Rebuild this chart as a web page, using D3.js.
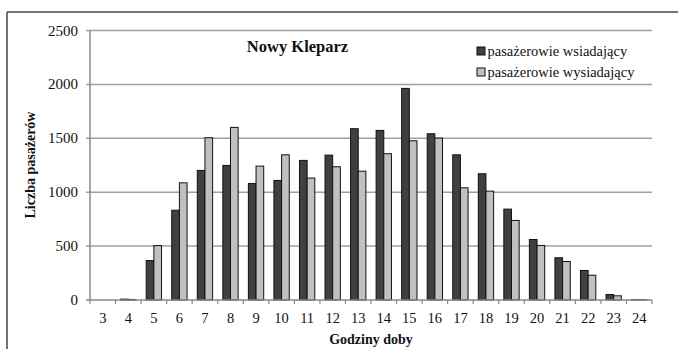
<!DOCTYPE html>
<html>
<head>
<meta charset="utf-8">
<script src="https://cdn.jsdelivr.net/npm/d3@7"></script>
<style>
  html, body { margin: 0; padding: 0; background: #fff; }
  svg { display: block; }
</style>
</head>
<body>
<svg id="chart" width="678" height="349"></svg>
<script>
// Hours of the day (category axis)
const hours = [3, 4, 5, 6, 7, 8, 9, 10, 11, 12, 13, 14, 15, 16, 17, 18, 19, 20, 21, 22, 23, 24];
// Passengers boarding per hour
const boarding = [0, 8, 366, 833, 1202, 1248, 1081, 1109, 1295, 1344, 1589, 1573, 1963, 1542, 1347, 1171, 843, 561, 392, 274, 51, 2];
// Passengers alighting per hour
const alighting = [0, 5, 505, 1087, 1505, 1601, 1242, 1347, 1131, 1236, 1195, 1357, 1477, 1502, 1041, 1010, 738, 506, 357, 230, 39, 2];
const seriesNames = ["pasażerowie wsiadający", "pasażerowie wysiadający"];
const seriesColors = ["#404040", "#c0c0c0"];
const yTicks = [0, 500, 1000, 1500, 2000, 2500];
const title = "Nowy Kleparz";
const xTitle = "Godziny doby";
const yTitle = "Liczba pasażerów";

const FONT = "'Liberation Serif', 'DejaVu Serif', serif";

const svg = d3.select("#chart")
  .attr("font-family", FONT)
  .style("font-family", FONT);

// Outer frame (top and left edges)
svg.append("line").attr("x1", 7).attr("x2", 678).attr("y1", 12).attr("y2", 12)
  .attr("stroke", "#444").attr("stroke-width", 1.5);
svg.append("line").attr("x1", 7).attr("x2", 7).attr("y1", 12).attr("y2", 349)
  .attr("stroke", "#444").attr("stroke-width", 1.5);

const plotLeft = 90, plotRight = 652, plotTop = 30.5, plotBottom = 300;

const x = d3.scaleBand().domain(hours).range([plotLeft, plotRight])
  .paddingInner(0.4).paddingOuter(0.2);
const xs = d3.scaleBand().domain([0, 1]).range([0, x.bandwidth()]);
const y = d3.scaleLinear().domain([0, 2500]).range([plotBottom, plotTop]);

// Horizontal gridlines with outward ticks
svg.append("g").selectAll("line").data(yTicks.filter(d => d > 0)).join("line")
  .attr("x1", plotLeft - 4).attr("x2", plotRight)
  .attr("y1", d => y(d)).attr("y2", d => y(d))
  .attr("stroke", "#a0a0a0").attr("stroke-width", 1.5);

// Y-axis tick labels
svg.append("g").selectAll("text").data(yTicks).join("text")
  .attr("x", 78).attr("y", d => y(d) + 5)
  .attr("text-anchor", "end").attr("font-size", 15).attr("fill", "#111")
  .text(d => d);

// Bars
const data = hours.map((h, i) => ({ h, vals: [boarding[i], alighting[i]] }));
const groups = svg.append("g").selectAll("g").data(data).join("g")
  .attr("transform", d => `translate(${x(d.h)},0)`);
groups.selectAll("rect").data(d => d.vals.map((v, k) => ({ v, k }))).join("rect")
  .attr("x", d => xs(d.k))
  .attr("y", d => y(d.v))
  .attr("width", xs.bandwidth())
  .attr("height", d => y(0) - y(d.v))
  .attr("fill", d => seriesColors[d.k])
  .attr("stroke", "#111").attr("stroke-width", 1);

// Y axis line
svg.append("line").attr("x1", plotLeft).attr("x2", plotLeft).attr("y1", plotTop).attr("y2", plotBottom)
  .attr("stroke", "#888").attr("stroke-width", 1.5);
svg.append("line").attr("x1", plotLeft - 4).attr("x2", plotLeft).attr("y1", plotBottom).attr("y2", plotBottom)
  .attr("stroke", "#888").attr("stroke-width", 1.5);

// X axis line and ticks at category boundaries
svg.append("line").attr("x1", plotLeft).attr("x2", plotRight).attr("y1", plotBottom).attr("y2", plotBottom)
  .attr("stroke", "#888").attr("stroke-width", 1.5);
const step = x.step();
const boundaries = hours.map(h => x(h) - step * x.paddingOuter()).concat([plotRight]);
svg.append("g").selectAll("line").data(boundaries).join("line")
  .attr("x1", d => d).attr("x2", d => d)
  .attr("y1", plotBottom).attr("y2", plotBottom + 4)
  .attr("stroke", "#888").attr("stroke-width", 1.2);

// X tick labels
svg.append("g").selectAll("text").data(hours).join("text")
  .attr("x", d => x(d) + x.bandwidth() / 2).attr("y", 323)
  .attr("text-anchor", "middle").attr("font-size", 14.5).attr("fill", "#111")
  .text(d => d);

// Axis titles
svg.append("text").attr("x", 371).attr("y", 344)
  .attr("text-anchor", "middle").attr("font-size", 14).attr("font-weight", "bold").attr("fill", "#111")
  .text(xTitle);
svg.append("text")
  .attr("transform", "translate(35,165) rotate(-90)")
  .attr("text-anchor", "middle").attr("font-size", 14).attr("font-weight", "bold").attr("fill", "#111")
  .text(yTitle);

// Chart title
svg.append("text").attr("x", 297.5).attr("y", 52)
  .attr("text-anchor", "middle").attr("font-size", 16.5).attr("font-weight", "bold").attr("fill", "#111")
  .text(title);

// Legend
const legend = svg.append("g").selectAll("g").data(seriesNames).join("g")
  .attr("transform", (d, i) => `translate(477,${47 + i * 21})`);
legend.append("rect").attr("width", 8).attr("height", 8)
  .attr("fill", (d, i) => seriesColors[i]).attr("stroke", "#111").attr("stroke-width", 1);
legend.append("text").attr("x", 10.5).attr("y", 8.5)
  .attr("font-size", 14.5).attr("fill", "#111").text(d => d);
</script>
</body>
</html>
